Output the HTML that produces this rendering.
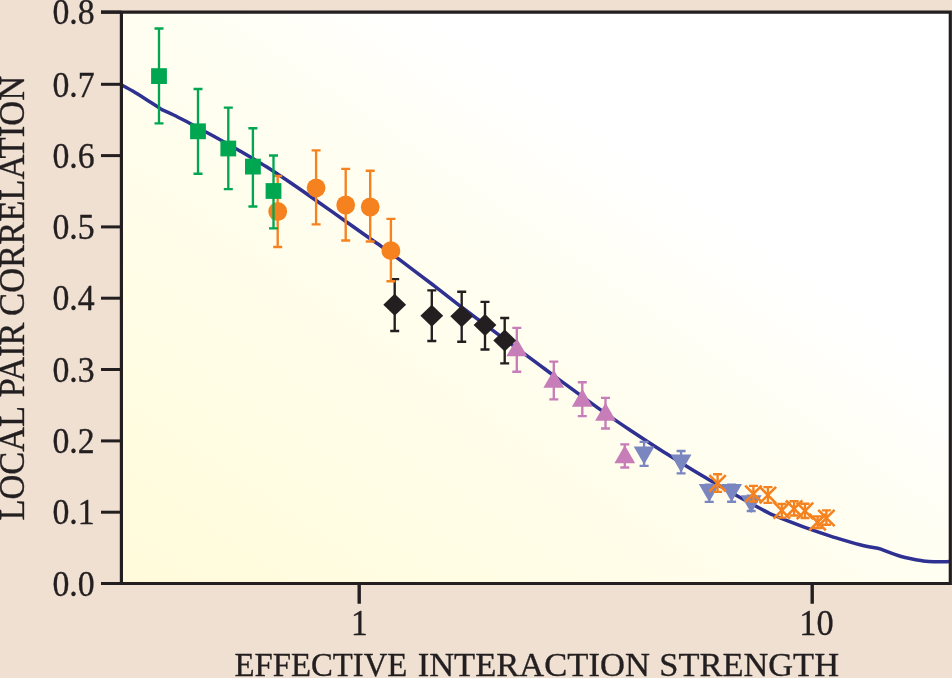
<!DOCTYPE html>
<html><head><meta charset="utf-8"><title>Local pair correlation</title>
<style>
html,body{margin:0;padding:0;background:#EFE0D2;}
body{width:952px;height:678px;overflow:hidden;}
svg{display:block;}
text{font-family:"Liberation Serif",serif;fill:#231F20;stroke:#231F20;stroke-width:0.35px;}
</style></head><body>
<svg width="952" height="678" viewBox="0 0 952 678">
<defs>
<linearGradient id="bg" x1="0" y1="1" x2="1" y2="0">
<stop offset="0" stop-color="#FFFBDA"/>
<stop offset="0.25" stop-color="#FFFDE5"/>
<stop offset="0.5" stop-color="#FFFEF1"/>
<stop offset="0.68" stop-color="#FFFFFF"/>
<stop offset="1" stop-color="#FFFFFF"/>
</linearGradient>
<clipPath id="cp"><rect x="121.4" y="12.1" width="828.9" height="571.4"/></clipPath>
</defs>
<rect x="0" y="0" width="952" height="678" fill="#EFE0D2"/>
<rect x="121.4" y="12.1" width="828.9" height="571.4" fill="url(#bg)"/>
<g clip-path="url(#cp)">
<path d="M121.4 84.6C123.8 85.9 130.6 89.5 135.5 92.5C140.4 95.5 146.6 99.5 151.0 102.3C155.4 105.1 160.0 108.1 161.8 109.3C163.9 110.2 169.5 112.6 174.2 114.9C178.8 117.2 183.2 119.6 189.7 123.0C196.1 126.4 204.4 130.8 212.9 135.4C221.4 140.1 231.5 145.7 240.4 150.9C249.3 156.1 257.7 161.0 266.5 166.5C275.3 172.1 284.8 178.6 293.1 184.2C301.4 189.8 307.2 193.9 316.1 200.2C325.0 206.4 337.1 215.0 346.2 221.4C355.3 227.9 365.1 234.8 371.0 239.0C376.9 243.1 376.6 242.7 381.6 246.3C386.6 249.9 392.6 254.2 401.2 260.6C409.8 267.0 423.4 277.3 433.1 284.7C442.8 292.2 452.5 299.8 459.6 305.3C466.7 310.7 469.4 312.7 475.6 317.4C481.8 322.0 488.3 326.8 496.8 333.1C505.3 339.4 518.6 349.2 526.5 355.0C534.4 360.8 536.8 362.7 544.2 368.2C551.6 373.6 562.3 381.7 570.8 387.9C579.3 394.2 586.9 399.7 595.4 405.8C603.9 411.9 613.0 418.3 621.9 424.3C630.8 430.3 641.1 437.1 648.5 442.0C655.9 446.8 658.8 448.6 666.2 453.3C673.6 457.9 685.0 465.1 692.7 469.8C700.4 474.5 704.6 476.9 712.2 481.3C719.8 485.7 729.3 491.2 738.3 496.2C747.3 501.2 760.0 508.1 766.2 511.3C772.4 514.6 768.3 512.8 775.5 515.7C782.7 518.5 799.4 525.1 809.2 528.6C819.0 532.2 826.0 534.4 834.5 537.1C843.0 539.7 852.5 542.6 860.0 544.5C867.5 546.4 876.2 547.7 879.4 548.4C883.0 549.7 893.9 554.2 901.2 556.2C908.5 558.3 917.5 559.7 923.1 560.6C928.7 561.4 930.3 561.4 934.9 561.5C939.5 561.6 947.9 561.3 950.5 561.3" stroke="#2E3192" stroke-width="3.5" fill="none" stroke-linejoin="round" transform="translate(0 0.3)"/>
<path d="M516.8 327.9V371.7M512.3 327.9H521.3M512.3 371.7H521.3" stroke="#C77DB7" stroke-width="2.35" fill="none"/>
<path d="M506.4 356.3H527.2L516.8 338.3Z" fill="#C77DB7"/>
<path d="M553.8 361.6V399.4M549.3 361.6H558.3M549.3 399.4H558.3" stroke="#C77DB7" stroke-width="2.35" fill="none"/>
<path d="M543.4 387.8H564.2L553.8 369.8Z" fill="#C77DB7"/>
<path d="M582.3 382.2V416.1M577.8 382.2H586.8M577.8 416.1H586.8" stroke="#C77DB7" stroke-width="2.35" fill="none"/>
<path d="M571.9 406.7H592.7L582.3 388.7Z" fill="#C77DB7"/>
<path d="M605.5 397.9V428.5M601.0 397.9H610.0M601.0 428.5H610.0" stroke="#C77DB7" stroke-width="2.35" fill="none"/>
<path d="M595.1 420.8H615.9L605.5 402.8Z" fill="#C77DB7"/>
<path d="M624.8 444.3V467.5M620.3 444.3H629.3M620.3 467.5H629.3" stroke="#C77DB7" stroke-width="2.35" fill="none"/>
<path d="M614.4 463.3H635.2L624.8 445.3Z" fill="#C77DB7"/>
<path d="M394.7 279.1V331.0M390.2 279.1H399.2M390.2 331.0H399.2" stroke="#231F20" stroke-width="2.35" fill="none"/>
<path d="M383.3 304.7L394.7 293.7L406.1 304.7L394.7 315.7Z" fill="#231F20"/>
<path d="M431.8 290.4V341.0M427.3 290.4H436.3M427.3 341.0H436.3" stroke="#231F20" stroke-width="2.35" fill="none"/>
<path d="M420.4 315.8L431.8 304.8L443.2 315.8L431.8 326.8Z" fill="#231F20"/>
<path d="M461.7 291.7V341.7M457.2 291.7H466.2M457.2 341.7H466.2" stroke="#231F20" stroke-width="2.35" fill="none"/>
<path d="M450.3 316.3L461.7 305.3L473.1 316.3L461.7 327.3Z" fill="#231F20"/>
<path d="M485.0 301.8V349.5M480.5 301.8H489.5M480.5 349.5H489.5" stroke="#231F20" stroke-width="2.35" fill="none"/>
<path d="M473.6 325.1L485.0 314.1L496.4 325.1L485.0 336.1Z" fill="#231F20"/>
<path d="M504.7 318.0V363.3M500.2 318.0H509.2M500.2 363.3H509.2" stroke="#231F20" stroke-width="2.35" fill="none"/>
<path d="M493.3 340.4L504.7 329.4L516.1 340.4L504.7 351.4Z" fill="#231F20"/>
<path d="M277.7 176.0V247.0M273.2 176.0H282.2M273.2 247.0H282.2" stroke="#F5821F" stroke-width="2.35" fill="none"/>
<circle cx="277.7" cy="211.5" r="9.4" fill="#F5821F"/>
<path d="M316.1 150.4V224.3M311.6 150.4H320.6M311.6 224.3H320.6" stroke="#F5821F" stroke-width="2.35" fill="none"/>
<circle cx="316.1" cy="187.8" r="9.4" fill="#F5821F"/>
<path d="M345.7 168.8V240.5M341.2 168.8H350.2M341.2 240.5H350.2" stroke="#F5821F" stroke-width="2.35" fill="none"/>
<circle cx="345.7" cy="205.0" r="9.4" fill="#F5821F"/>
<path d="M370.2 170.7V241.5M365.7 170.7H374.7M365.7 241.5H374.7" stroke="#F5821F" stroke-width="2.35" fill="none"/>
<circle cx="370.2" cy="207.0" r="9.4" fill="#F5821F"/>
<path d="M390.9 218.8V281.2M386.4 218.8H395.4M386.4 281.2H395.4" stroke="#F5821F" stroke-width="2.35" fill="none"/>
<circle cx="390.9" cy="250.7" r="9.4" fill="#F5821F"/>
<path d="M159.0 28.5V123.4M154.5 28.5H163.5M154.5 123.4H163.5" stroke="#00A650" stroke-width="2.35" fill="none"/>
<rect x="151.1" y="68.2" width="15.8" height="15.8" fill="#00A650"/>
<path d="M198.0 89.0V173.7M193.5 89.0H202.5M193.5 173.7H202.5" stroke="#00A650" stroke-width="2.35" fill="none"/>
<rect x="190.1" y="123.4" width="15.8" height="15.8" fill="#00A650"/>
<path d="M228.3 107.6V189.1M223.8 107.6H232.8M223.8 189.1H232.8" stroke="#00A650" stroke-width="2.35" fill="none"/>
<rect x="220.4" y="140.6" width="15.8" height="15.8" fill="#00A650"/>
<path d="M252.9 128.2V206.5M248.4 128.2H257.4M248.4 206.5H257.4" stroke="#00A650" stroke-width="2.35" fill="none"/>
<rect x="245.0" y="158.7" width="15.8" height="15.8" fill="#00A650"/>
<path d="M273.5 155.5V228.4M269.0 155.5H278.0M269.0 228.4H278.0" stroke="#00A650" stroke-width="2.35" fill="none"/>
<rect x="265.6" y="183.1" width="15.8" height="15.8" fill="#00A650"/>
<path d="M644.1 441.9V465.9M639.6 441.9H648.6M639.6 465.9H648.6" stroke="#7A86C0" stroke-width="2.35" fill="none"/>
<path d="M633.7 446.5H654.5L644.1 464.5Z" fill="#7A86C0"/>
<path d="M681.1 451.0V473.4M676.6 451.0H685.6M676.6 473.4H685.6" stroke="#7A86C0" stroke-width="2.35" fill="none"/>
<path d="M670.7 454.6H691.5L681.1 472.6Z" fill="#7A86C0"/>
<path d="M709.2 484.6V501.8M704.7 484.6H713.7M704.7 501.8H713.7" stroke="#7A86C0" stroke-width="2.35" fill="none"/>
<path d="M698.8 484.1H719.6L709.2 502.1Z" fill="#7A86C0"/>
<path d="M731.6 484.6V501.7M727.1 484.6H736.1M727.1 501.7H736.1" stroke="#7A86C0" stroke-width="2.35" fill="none"/>
<path d="M721.2 484.1H742.0L731.6 502.1Z" fill="#7A86C0"/>
<path d="M751.2 495.7V511.0M746.7 495.7H755.7M746.7 511.0H755.7" stroke="#7A86C0" stroke-width="2.35" fill="none"/>
<path d="M740.8 495.2H761.6L751.2 513.2Z" fill="#7A86C0"/>
<path d="M717.6 474.2V491.9M713.1 474.2H722.1M713.1 491.9H722.1" stroke="#F5821F" stroke-width="2.35" fill="none"/>
<path d="M709.4 475.1L725.8 491.5M709.4 491.5L725.8 475.1" stroke="#F5821F" stroke-width="2.6" fill="none"/>
<path d="M753.4 485.8V501.5M748.9 485.8H757.9M748.9 501.5H757.9" stroke="#F5821F" stroke-width="2.35" fill="none"/>
<path d="M745.2 485.6L761.6 502.0M745.2 502.0L761.6 485.6" stroke="#F5821F" stroke-width="2.6" fill="none"/>
<path d="M767.9 487.1V502.9M763.4 487.1H772.4M763.4 502.9H772.4" stroke="#F5821F" stroke-width="2.35" fill="none"/>
<path d="M759.7 486.9L776.1 503.3M759.7 503.3L776.1 486.9" stroke="#F5821F" stroke-width="2.6" fill="none"/>
<path d="M781.8 504.0V517.6M777.3 504.0H786.3M777.3 517.6H786.3" stroke="#F5821F" stroke-width="2.35" fill="none"/>
<path d="M773.6 502.2L790.0 518.6M773.6 518.6L790.0 502.2" stroke="#F5821F" stroke-width="2.6" fill="none"/>
<path d="M794.1 501.2V515.5M789.6 501.2H798.6M789.6 515.5H798.6" stroke="#F5821F" stroke-width="2.35" fill="none"/>
<path d="M785.9 500.5L802.3 516.9M785.9 516.9L802.3 500.5" stroke="#F5821F" stroke-width="2.6" fill="none"/>
<path d="M805.0 503.7V518.0M800.5 503.7H809.5M800.5 518.0H809.5" stroke="#F5821F" stroke-width="2.35" fill="none"/>
<path d="M796.8 502.7L813.2 519.1M796.8 519.1L813.2 502.7" stroke="#F5821F" stroke-width="2.6" fill="none"/>
<path d="M817.6 516.3V528.0M813.1 516.3H822.1M813.1 528.0H822.1" stroke="#F5821F" stroke-width="2.35" fill="none"/>
<path d="M809.4 514.0L825.8 530.4M809.4 530.4L825.8 514.0" stroke="#F5821F" stroke-width="2.6" fill="none"/>
<path d="M826.4 510.4V524.7M821.9 510.4H830.9M821.9 524.7H830.9" stroke="#F5821F" stroke-width="2.35" fill="none"/>
<path d="M818.2 509.8L834.6 526.2M818.2 526.2L834.6 509.8" stroke="#F5821F" stroke-width="2.6" fill="none"/>
</g>
<path d="M101 12.1H950.3V583.5H101M121.4 12.1V583.5" stroke="#231F20" stroke-width="3.2" fill="none"/>
<path d="M101 583.5H121.4" stroke="#231F20" stroke-width="3"/>
<text x="52.4" y="595.7" font-size="34.8" textLength="42.2" lengthAdjust="spacingAndGlyphs">0.0</text>
<path d="M101 512.2H121.4" stroke="#231F20" stroke-width="3"/>
<text x="52.4" y="524.4" font-size="34.8" textLength="42.2" lengthAdjust="spacingAndGlyphs">0.1</text>
<path d="M101 440.9H121.4" stroke="#231F20" stroke-width="3"/>
<text x="52.4" y="453.1" font-size="34.8" textLength="42.2" lengthAdjust="spacingAndGlyphs">0.2</text>
<path d="M101 369.5H121.4" stroke="#231F20" stroke-width="3"/>
<text x="52.4" y="381.7" font-size="34.8" textLength="42.2" lengthAdjust="spacingAndGlyphs">0.3</text>
<path d="M101 298.2H121.4" stroke="#231F20" stroke-width="3"/>
<text x="52.4" y="310.4" font-size="34.8" textLength="42.2" lengthAdjust="spacingAndGlyphs">0.4</text>
<path d="M101 226.9H121.4" stroke="#231F20" stroke-width="3"/>
<text x="52.4" y="239.1" font-size="34.8" textLength="42.2" lengthAdjust="spacingAndGlyphs">0.5</text>
<path d="M101 155.6H121.4" stroke="#231F20" stroke-width="3"/>
<text x="52.4" y="167.8" font-size="34.8" textLength="42.2" lengthAdjust="spacingAndGlyphs">0.6</text>
<path d="M101 84.3H121.4" stroke="#231F20" stroke-width="3"/>
<text x="52.4" y="96.5" font-size="34.8" textLength="42.2" lengthAdjust="spacingAndGlyphs">0.7</text>
<path d="M101 12.1H121.4" stroke="#231F20" stroke-width="3"/>
<text x="52.4" y="24.3" font-size="34.8" textLength="42.2" lengthAdjust="spacingAndGlyphs">0.8</text>
<path d="M359.2 583.5V603.8M812.2 583.5V603.8" stroke="#231F20" stroke-width="3.4" fill="none"/>
<text x="350.9" y="635" font-size="34.9" textLength="16.7" lengthAdjust="spacingAndGlyphs">1</text>
<text x="799.3" y="635" font-size="34.9" textLength="34.3" lengthAdjust="spacingAndGlyphs">10</text>
<text x="234.46" y="676" font-size="34.6" textLength="172.86" lengthAdjust="spacingAndGlyphs">EFFECTIVE</text>
<text x="417.64" y="676" font-size="34.6" textLength="232.24" lengthAdjust="spacingAndGlyphs">INTERACTION</text>
<text x="659.36" y="676" font-size="34.6" textLength="179.61" lengthAdjust="spacingAndGlyphs">STRENGTH</text>
<text transform="translate(24.2 520.57) rotate(-90)" font-size="35" textLength="114.63" lengthAdjust="spacingAndGlyphs">LOCAL</text>
<text transform="translate(24.2 397.37) rotate(-90)" font-size="35" textLength="74.81" lengthAdjust="spacingAndGlyphs">PAIR</text>
<text transform="translate(24.2 315.92) rotate(-90)" font-size="35" textLength="240.13" lengthAdjust="spacingAndGlyphs">CORRELATION</text>
</svg>
</body></html>
